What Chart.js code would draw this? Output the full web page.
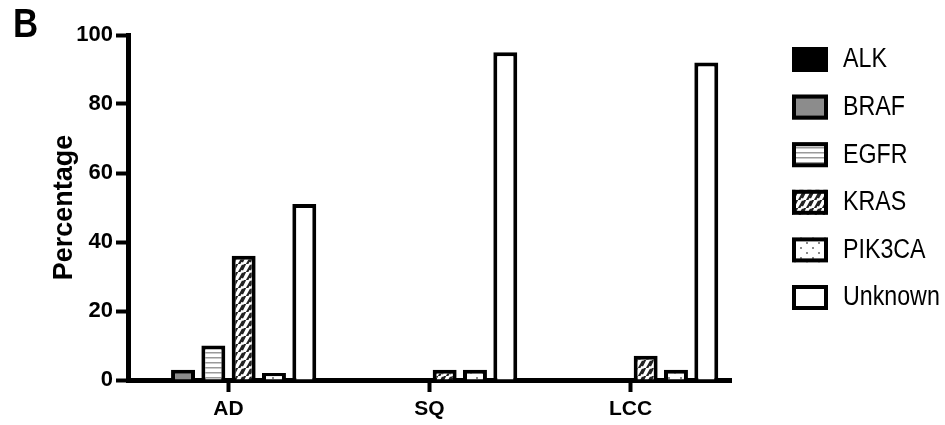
<!DOCTYPE html>
<html>
<head>
<meta charset="utf-8">
<script src="https://cdn.jsdelivr.net/npm/chart.js@4.4.1/dist/chart.umd.min.js"></script>
<style>
  html, body { margin: 0; padding: 0; background: #fff; }
</style>
</head>
<body>
<canvas id="graficaMutaciones" width="945" height="425"></canvas>
<script>
// Datos: porcentaje de cada gen por tipo histológico
const categorias = ["AD", "SQ", "LCC"];
const genes = ["ALK", "BRAF", "EGFR", "KRAS", "PIK3CA", "Unknown"];
const valoresALK = [0, 0, 0];
const valoresBRAF = [3, 0, 0];
const valoresEGFR = [10, 0, 0];
const valoresKRAS = [36, 3, 7];
const valoresPIK3CA = [2, 3, 3];
const valoresUnknown = [51, 95, 92];
const ticksY = [0, 20, 40, 60, 80, 100];

const fuente = "'Liberation Sans', Arial, sans-serif";

// Tramas de relleno para las barras
function crearPatron(tipo) {
  const c = document.createElement("canvas");
  const p = c.getContext("2d");
  if (tipo === "lineas") {
    c.width = 8; c.height = 5;
    p.fillStyle = "#fff"; p.fillRect(0, 0, 8, 5);
    p.fillStyle = "#9a9a9a"; p.fillRect(0, 2, 8, 1.5);
  } else if (tipo === "diagonal") {
    c.width = 8; c.height = 8;
    p.fillStyle = "#fff"; p.fillRect(0, 0, 8, 8);
    p.strokeStyle = "#222"; p.lineWidth = 2.2;
    p.beginPath();
    p.moveTo(-2, 10); p.lineTo(3, 1);
    p.moveTo(6, 10); p.lineTo(11, 1);
    p.moveTo(2, 6); p.lineTo(6, -2);
    p.stroke();
  } else if (tipo === "puntos") {
    c.width = 12; c.height = 10;
    p.fillStyle = "#fff"; p.fillRect(0, 0, 12, 10);
    p.fillStyle = "#8a8a8a";
    p.fillRect(2, 2, 2, 2);
    p.fillRect(8, 7, 2, 2);
  }
  return p.createPattern(c, "repeat");
}

const rellenos = [
  "#000000",
  "#8c8c8c",
  crearPatron("lineas"),
  crearPatron("diagonal"),
  crearPatron("puntos"),
  "#ffffff",
];
const series = [valoresALK, valoresBRAF, valoresEGFR, valoresKRAS, valoresPIK3CA, valoresUnknown];

// texto algo estrecho (no hay fuente "narrow" instalada)
function textoEstrecho(ctx, texto, x, y, escala) {
  ctx.save();
  ctx.translate(x, y);
  ctx.scale(escala, 1);
  ctx.fillText(texto, 0, 0);
  ctx.restore();
}

// Leyenda a la derecha con las mismas tramas, y la letra del panel
const leyendaPatrones = {
  id: "leyendaPatrones",
  afterDraw(chart) {
    const ctx = chart.ctx;
    ctx.save();
    chart.data.datasets.forEach((ds, i) => {
      const y = 47 + i * 47.6;
      ctx.fillStyle = ds.backgroundColor;
      ctx.fillRect(792, y, 36, 25);
      ctx.lineWidth = 4;
      ctx.strokeStyle = "#000";
      ctx.strokeRect(794, y + 2, 32, 21);
      ctx.fillStyle = "#000";
      ctx.font = "27px " + fuente;
      ctx.textBaseline = "middle";
      ctx.textAlign = "left";
      textoEstrecho(ctx, ds.label, 843, y + 13, 0.86);
    });
    ctx.font = "bold 41px " + fuente;
    ctx.textBaseline = "alphabetic";
    textoEstrecho(ctx, "B", 13, 37, 0.85);
    ctx.restore();
  },
};

const ctxBarras = document.getElementById("graficaMutaciones").getContext("2d");
const graficaBarras = new Chart(ctxBarras, {
  type: "bar",
  data: {
    labels: categorias,
    datasets: genes.map((gen, i) => ({
      label: gen,
      data: series[i],
      backgroundColor: rellenos[i],
      borderColor: "#000",
      borderWidth: 4,
      categoryPercentage: 0.905,
      barPercentage: 0.79,
    })),
  },
  options: {
    responsive: false,
    animation: false,
    devicePixelRatio: 1,
    layout: { padding: { top: 35, right: 214, bottom: 0, left: 0 } },
    plugins: {
      legend: { display: false },
      tooltip: { enabled: false },
    },
    scales: {
      x: {
        grid: {
          display: true,
          drawOnChartArea: false,
          offset: false,
          tickLength: 12,
          tickWidth: 4,
          tickColor: "#000",
        },
        border: { display: true, width: 5, color: "#000" },
        ticks: {
          color: "#000",
          padding: 5,
          font: { family: fuente, size: 21, weight: "bold" },
        },
        afterFit(scale) {
          scale.height = 45;
        },
      },
      y: {
        min: 0,
        max: 100,
        afterBuildTicks(scale) {
          scale.ticks = ticksY.map((v) => ({ value: v }));
        },
        grid: {
          drawOnChartArea: false,
          tickLength: 12,
          tickWidth: 4,
          tickColor: "#000",
        },
        border: { display: true, width: 5, color: "#000" },
        ticks: {
          color: "#000",
          padding: 3,
          font: { family: fuente, size: 22, weight: "bold" },
        },
        title: {
          display: true,
          text: "Percentage",
          color: "#000",
          padding: { top: 48, bottom: 0 },
          font: { family: fuente, size: 27, weight: "bold" },
        },
        afterFit(scale) {
          scale.width = 128;
        },
      },
    },
  },
  plugins: [leyendaPatrones],
});
</script>
</body>
</html>
